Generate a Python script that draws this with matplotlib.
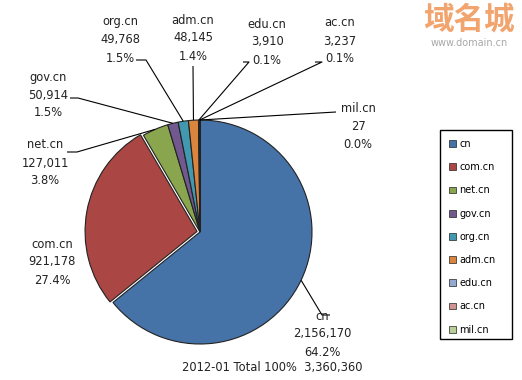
import numpy as np
import matplotlib
matplotlib.use("Agg")
import matplotlib.pyplot as plt
from matplotlib.patches import Rectangle

categories = ["cn", "com.cn", "net.cn", "gov.cn", "org.cn", "adm.cn", "edu.cn", "ac.cn", "mil.cn"]
values = [2156170, 921178, 127011, 50914, 49768, 48145, 3910, 3237, 27]
percents = ["64.2%", "27.4%", "3.8%", "1.5%", "1.5%", "1.4%", "0.1%", "0.1%", "0.0%"]
title_text = "2012-01 Total 100%  3,360,360"
colors = ["#4572A7", "#AA4643", "#89A54E", "#71588F", "#4198AF",
          "#DB843D", "#93A9CF", "#D19392", "#B9CD96"]

W, H = 522, 380
fig = plt.figure(figsize=(W / 100, H / 100), dpi=100)
ax = fig.add_axes([0, 0, 1, 1])

def Y(py):
    return H - py

cx, cy, R = 200, Y(232), 112
explode = [0, 3, 0, 0, 0, 0, 0, 0, 0]
wedges, _ = ax.pie(values, colors=colors, startangle=90, counterclock=False,
                   center=(cx, cy), radius=R, explode=explode,
                   wedgeprops=dict(edgecolor="#222222", linewidth=0.8),
                   frame=True)
ax.set_xlim(0, W)
ax.set_ylim(0, H)
ax.set_aspect("equal")
ax.axis("off")

# label layout: (text x, text middle y in px, elbow x, elbow y, end of horizontal x)
layout = {
    "cn":     (322, 334, 322, 315, 330),
    "com.cn": (52, 262, None, None, None),
    "net.cn": (45, 163, 77, 152, 67),
    "gov.cn": (48, 95, 78, 98, 70),
    "org.cn": (120, 40, 146, 60, 136),
    "adm.cn": (193, 38, 193, 66, 193),
    "edu.cn": (267, 42, 249, 62, 243),
    "ac.cn":  (340, 41, 322, 62, 315),
    "mil.cn": (358, 126, 336, 112, 336),
}

for w, cat, v, p in zip(wedges, categories, values, percents):
    tx, ty, ex, ey, hx = layout[cat]
    ax.text(tx, Y(ty), f"{cat}\n{v:,}\n{p}", ha="center", va="center",
            fontsize=8.3, color="#222222", linespacing=1.5, family="DejaVu Sans")
    if ex is None:
        continue
    tm = np.deg2rad((w.theta1 + w.theta2) / 2)
    wx = w.center[0] + R * np.cos(tm)
    wy = w.center[1] + R * np.sin(tm)
    ax.plot([wx, ex, hx], [wy, Y(ey), Y(ey)], color="black", lw=0.8,
            solid_capstyle="butt")

ax.text(272, Y(368), title_text, ha="center", va="center", fontsize=8.3,
        color="#222222", family="DejaVu Sans")

# legend box
ax.add_patch(Rectangle((440, Y(339)), 72, 209, fill=False, edgecolor="black",
                       linewidth=1.0))
leg = fig.legend(wedges, categories, loc="upper left",
                 bbox_to_anchor=(445 / W, 1 - 135 / H),
                 fontsize=7, frameon=False,
                 handlelength=0.7, handleheight=0.7, handletextpad=0.35,
                 labelspacing=1.36, borderpad=0.4, borderaxespad=0)
for h in leg.legend_handles:
    h.set_linewidth(0.5)

# watermark
ax.text(469, Y(20), "域名城", ha="center", va="center", fontsize=22,
        fontweight="bold", color="#F2A46E", family=["Noto Sans CJK SC", "DejaVu Sans"])
ax.text(469, Y(43), "www.domain.cn", ha="center", va="center", fontsize=7,
        color="#A8A8A8", family="DejaVu Sans")

fig.savefig("out.png", dpi=100)
